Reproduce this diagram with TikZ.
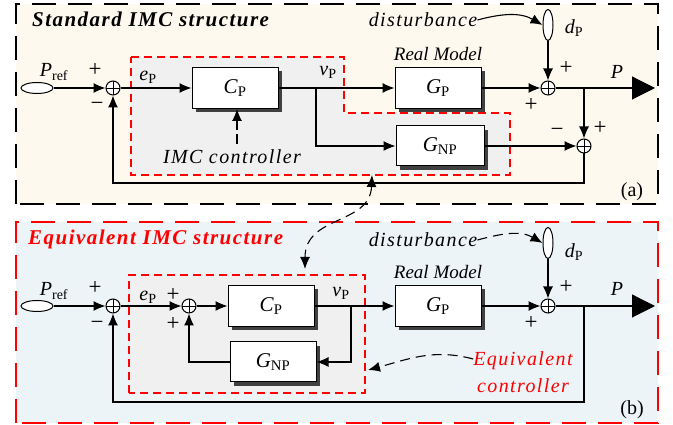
\documentclass[tikz,border=0pt]{standalone}
\usepackage{fontspec}
\setmainfont{Liberation Serif}
\newfontfamily\widefont[LetterSpace=7]{Liberation Serif}
\usetikzlibrary{arrows.meta,positioning,shapes.geometric,shadows}
\definecolor{creamfill}{HTML}{FDF9EF}
\definecolor{bluefill}{HTML}{ECF4F8}
\definecolor{grayfill}{HTML}{F0F0F0}
\definecolor{imcred}{HTML}{FF0000}
\newcommand{\sig}[2]{\textit{#1}\textsubscript{#2}}

\begin{document}
\begin{tikzpicture}[
        x=1pt, y=1pt,
        font=\fontsize{20}{24}\selectfont,
        blk/.style={rectangle, draw=black, fill=white, line width=1pt, minimum width=86pt, minimum height=41pt, font=\fontsize{21}{24}\selectfont, drop shadow={fill=black!75, opacity=1, shadow xshift=4pt, shadow yshift=-4pt}},
        sumj/.style={circle, draw=black, fill=white, line width=1pt, minimum size=14pt, inner sep=0pt, path picture={\draw[line width=0.9pt] (path picture bounding box.north) -- (path picture bounding box.south) (path picture bounding box.west) -- (path picture bounding box.east);}},
        src/.style={ellipse, draw=black, fill=white, line width=1pt, inner sep=0pt},
        arr/.style={-{Latex[length=12pt,width=10pt]}, line width=1.1pt},
        outarr/.style={-{Triangle[length=23pt,width=23pt]}, line width=1.1pt},
        dasharr/.style={arr, dash pattern=on 10pt off 6pt},
        sgn/.style={font=\fontsize{23}{24}\selectfont, inner sep=0pt},
        lbl/.style={font=\widefont\itshape\fontsize{20}{27}\selectfont, inner sep=0pt},
        model/.style={font=\itshape\fontsize{19}{22}\selectfont, inner sep=0pt},
        panel/.style={line width=1.6pt, dash pattern=on 24pt off 12pt},
        imcbox/.style={draw=imcred, fill=grayfill, line width=1.2pt, dash pattern=on 8pt off 5pt}
    ]
        \useasboundingbox (0,0) rectangle (673,425);

        \draw[panel, fill=creamfill] (16,221) rectangle (658,421);
        \draw[panel, draw=imcred, fill=bluefill] (16,2) rectangle (658,203);
        \draw[imcbox] (131,368) -- (344,368) -- (344,312) -- (510,312) -- (510,250) -- (131,250) -- cycle;
        \draw[imcbox] (129,32) rectangle (365,150);

        \node[lbl, anchor=base west, font=\widefont\itshape\fontsize{21}{24}\selectfont] (titleA) at (32,398) {\bfseries Standard IMC structure};
        \node[lbl, anchor=base west, font=\widefont\itshape\fontsize{21}{24}\selectfont, text=imcred] (titleB) at (28,180) {\bfseries Equivalent IMC structure};

        \node[src, minimum width=32pt, minimum height=11pt] (prefA) at (37,337) {};
        \node[sumj] (sumA1) at (113,337) {};
        \node[blk] (cpA) at (235,337) {\sig{C}{P}};
        \coordinate (vA) at (316,337);
        \node[blk] (gpA) at (438,337) {\sig{G}{P}};
        \node[blk, minimum width=88pt, minimum height=40pt] (gnpA) at (440,279) {\sig{G}{NP}};
        \node[sumj] (sumA2) at (548,337) {};
        \node[src, minimum width=10pt, minimum height=31pt] (dA) at (548,400) {};
        \node[sumj] (sumA3) at (584,279) {};
        \coordinate (outA) at (655,337);
        \coordinate (jA) at (584,337);
        \coordinate (fbA) at (584,242);

        \node (prefLblA) at (54,353) {\sig{P}{ref}};
        \node (eA) at (148,348) {\sig{e}{P}};
        \node (vLblA) at (328,353) {\sig{v}{P}};
        \node[model, above=6pt of gpA] (realA) {Real Model};
        \node[lbl] (imcA) at (232,268) {IMC controller};
        \node[lbl] (distA) at (423,405) {disturbance};
        \node (dLblA) at (574,397) {\sig{d}{P}};
        \node (pA) at (617,353) {\textit{P}};
        \node (tagA) at (632,233) {(a)};
        \coordinate (imcTail) at (237,281);

        \node[sgn] at (95,355) {+};
        \node[sgn] at (97,319) {−};
        \node[sgn] at (531,320) {+};
        \node[sgn] at (566,357) {+};
        \node[sgn] at (557,293) {−};
        \node[sgn] at (600,297) {+};

        \draw[arr] (prefA) -- (sumA1);
        \draw[arr] (sumA1) -- (cpA);
        \draw[arr] (cpA) -- (gpA);
        \draw[arr] (vA) |- (gnpA);
        \draw[arr] (gpA) -- (sumA2);
        \draw[arr] (dA) -- (sumA2);
        \draw[outarr] (sumA2) -- (outA);
        \draw[arr] (jA) -- (sumA3);
        \draw[arr] (gnpA) -- (sumA3);
        \draw[arr] (sumA3) -- (fbA) -| (sumA1);
        \draw[arr] (distA.east) to[out=15,in=150] (dA.west);
        \draw[arr, dash pattern=on 10pt off 4pt] (imcTail) -- (cpA.south -| imcTail);

        \node[src, minimum width=32pt, minimum height=11pt] (prefB) at (37,119) {};
        \node[sumj] (sumB1) at (113,119) {};
        \node[sumj] (sumB2) at (189,119) {};
        \node[blk] (cpB) at (271,119) {\sig{C}{P}};
        \node[blk, minimum height=40pt] (gnpB) at (273,63) {\sig{G}{NP}};
        \coordinate (vB) at (351,119);
        \node[blk] (gpB) at (438,119) {\sig{G}{P}};
        \node[sumj] (sumB3) at (548,119) {};
        \node[src, minimum width=10pt, minimum height=31pt] (dB) at (548,182) {};
        \coordinate (outB) at (655,119);
        \coordinate (jB) at (584,119);
        \coordinate (fbB) at (584,23);

        \node (prefLblB) at (54,134) {\sig{P}{ref}};
        \node (eB) at (148,128) {\sig{e}{P}};
        \node (vLblB) at (341,132) {\sig{v}{P}};
        \node[model, above=6pt of gpB] (realB) {Real Model};
        \node[lbl] (distB) at (423,185) {disturbance};
        \node (dLblB) at (574,173) {\sig{d}{P}};
        \node (pB) at (617,136) {\textit{P}};
        \node (tagB) at (632,15) {(b)};
        \node[lbl, text=imcred, align=center] (eqc) at (523,53) {Equivalent\\controller};
        \coordinate (eqTip) at (368,55);

        \node[sgn] at (95,137) {+};
        \node[sgn] at (97,100) {−};
        \node[sgn] at (173,130) {+};
        \node[sgn] at (173,101) {+};
        \node[sgn] at (531,102) {+};
        \node[sgn] at (566,138) {+};

        \draw[arr] (prefB) -- (sumB1);
        \draw[arr] (sumB1) -- (sumB2);
        \draw[arr] (sumB2) -- (cpB);
        \draw[arr] (cpB) -- (gpB);
        \draw[arr] (vB) |- (gnpB);
        \draw[arr] (gnpB) -| (sumB2);
        \draw[arr] (gpB) -- (sumB3);
        \draw[arr] (dB) -- (sumB3);
        \draw[outarr] (sumB3) -- (outB);
        \draw[arr] (jB) -- (fbB) -| (sumB1);
        \draw[dasharr] (distB.east) to[out=15,in=150] (dB.west);
        \draw[dasharr] ([yshift=13pt]eqc.west) to[out=165,in=15] (eqTip);

        \coordinate (linkA) at (372,250);
        \coordinate (linkB) at (305,156);
        \draw[dasharr, {Latex[length=12pt,width=10pt]}-{Latex[length=12pt,width=10pt]}] (linkA) .. controls (370,200) and (305,210) .. (linkB);
    \end{tikzpicture}
\end{document}
